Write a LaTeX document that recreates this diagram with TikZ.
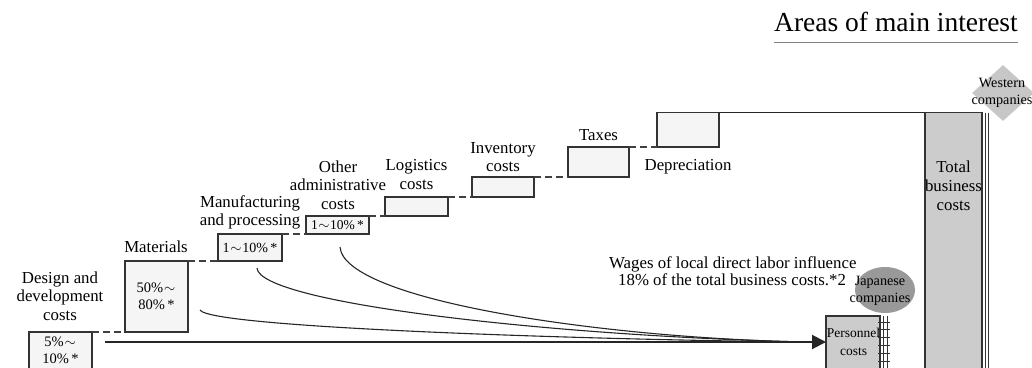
\documentclass[tikz,border=0pt]{standalone}
\usepackage{fontspec}
\setmainfont{Liberation Serif}
\usetikzlibrary{arrows.meta,shapes.geometric,calc}
\newcommand{\pctwave}{\makebox[0.9em]{$\sim$}}
\newcommand{\pctnote}{\thinspace*}
\begin{document}
\begin{tikzpicture}[x=1pt,y=-1pt,
  % multi-line labels are placed by the baseline of their last line
  lbl/.style={font=\fontsize{16.8}{18.6}\selectfont, align=center, anchor=base, inner sep=0},
  smalllbl/.style={font=\fontsize{14.2}{17}\selectfont, align=center, anchor=base, inner sep=0},
  pct/.style={font=\fontsize{14.5}{16.5}\selectfont, align=center},
  stepbox/.style={draw=black!80, line width=1.1pt, fill=black!4, anchor=north west,
    inner sep=0, outer sep=0},
  barbox/.style={draw=black!80, line width=1.1pt, fill=black!20, anchor=north west,
    inner sep=0, outer sep=0},
  link/.style={draw=black!75, line width=1.1pt, dash pattern=on 7pt off 4pt},
  flow/.style={draw=black!85, line width=1.1pt},
  rail/.style={draw=black!80, line width=0.9pt}
]
\path[use as bounding box, clip] (0,0) rectangle (1032,367);

% heading
\node[font=\fontsize{27.5}{30}\selectfont, anchor=base, inner sep=0] (title) at (896,31) {Areas of main interest};
\draw[black!50, line width=1.5pt] ($(title.base west)+(0,11.7)$) -- ($(title.base east)+(0,11.7)$);

% cost steps
\node[stepbox, minimum width=63pt, minimum height=37pt, pct] (design) at (29,332) {5\%\pctwave\\10\%\pctnote};
\node[stepbox, minimum width=63pt, minimum height=71pt, pct] (materials) at (125,261) {50\%\pctwave\\80\%\pctnote};
\node[stepbox, minimum width=64pt, minimum height=27pt, pct, font=\fontsize{14}{16}\selectfont] (manuf) at (218,234) {1\pctwave10\%\pctnote};
\node[stepbox, minimum width=63pt, minimum height=18pt, pct, font=\fontsize{13.5}{16}\selectfont] (admin) at (306,216) {1\pctwave10\%\pctnote};
\node[stepbox, minimum width=63pt, minimum height=19pt] (logist) at (385,197) {};
\node[stepbox, minimum width=62pt, minimum height=20pt] (invent) at (472,177) {};
\node[stepbox, minimum width=61pt, minimum height=30pt] (taxes) at (568,147) {};
\node[stepbox, minimum width=62pt, minimum height=34.5pt] (depr) at (657,112.5) {};

% totals column with stacked edge
\node[barbox, minimum width=57pt, minimum height=270pt] (total) at (925,112.5) {};
\draw[rail] ($(total.north east)+(3,0)$) -- ($(total.south east)+(3,0)$);
\draw[rail] ($(total.north east)+(6,0)$) -- ($(total.south east)+(6,0)$);

% personnel column with ladder edge
\node[barbox, minimum width=54pt, minimum height=60pt] (pers) at (826,316) {};
\draw[rail] ($(pers.north east)+(3,0)$) -- ($(pers.south east)+(3,0)$);
\draw[rail] ($(pers.north east)+(7,0)$) -- ($(pers.south east)+(7,0)$);
\foreach \k in {0,...,6}
  \draw[rail] ($(pers.north east)+(-2,6+7.8*\k)$) -- ++(12,0);

% step links
\draw[link] (design.north east) -- (materials.south west);
\draw[link] (materials.north east) -- (manuf.south west);
\draw[link] (manuf.north east) -- (admin.south west);
\draw[link] (admin.north east) -- (logist.south west);
\draw[link] (logist.north east) -- (invent.south west);
\draw[link] (invent.north east) -- (taxes.south west);
\draw[link] (taxes.north east) -- (depr.south west);
\draw[flow] (depr.north east) -- (total.north west);

% labels
\node[lbl] (designlbl) at (60,320.2) {Design and\\development\\costs};
\node[lbl] (matlbl) at (156,252) {Materials};
\node[lbl] (manuflbl) at (250,225.6) {Manufacturing\\and processing};
\node[lbl] (adminlbl) at (338,209.2) {Other\\administrative\\costs};
\node[lbl] (logistlbl) at (416.5,189) {Logistics\\costs};
\node[lbl] (inventlbl) at (503,171.6) {Inventory\\costs};
\node[lbl] (taxeslbl) at (598.5,140) {Taxes};
\node[lbl] (deprlbl) at (688,170) {Depreciation};
\node[lbl] (totallbl) at (953.5,210) {Total\\business\\costs};

% company markers
\node[diamond, fill=black!22, minimum width=62pt, minimum height=56pt, inner sep=0] (west) at (1003,93) {};
\node[smalllbl] (westlbl) at (1002,104.5) {Western\\companies};
\node[ellipse, fill=black!40, minimum width=60pt, minimum height=46pt, inner sep=0] (japan) at (885,290) {};
\node[smalllbl] (japanlbl) at (880,302.5) {Japanese\\companies};
\node[smalllbl, font=\fontsize{13.5}{18}\selectfont] (perslbl) at (853.5,355) {Personnel\\costs};

% wage note
\node[lbl, anchor=base west] (wage1) at (609,268) {Wages of local direct labor influence};
\node[lbl, anchor=base west] (wage2) at (618,285) {18\% of the total business costs.*2};

% flows into personnel costs
\coordinate (src) at ($(design.north east)+(13,10)$);
\coordinate (merge) at ($(pers.west |- src)+(-20,0)$);
\coordinate (matout) at ($(materials.south east)+(12,-22)$);
\coordinate (manufout) at ($(manuf.south)+(7,7)$);
\coordinate (adminout) at ($(admin.south)+(2.5,13)$);
\draw[flow] (matout) .. controls (210,328) and (600,340) .. (merge);
\draw[flow] (manufout) .. controls (259,303) and (550,336) .. (merge);
\draw[flow] (adminout) .. controls (344,300) and (600,338) .. (merge);
\draw[flow, line width=2pt, -{Triangle[length=14pt,width=14pt]}] (src) -- (pers.west |- src);
\end{tikzpicture}
\end{document}
